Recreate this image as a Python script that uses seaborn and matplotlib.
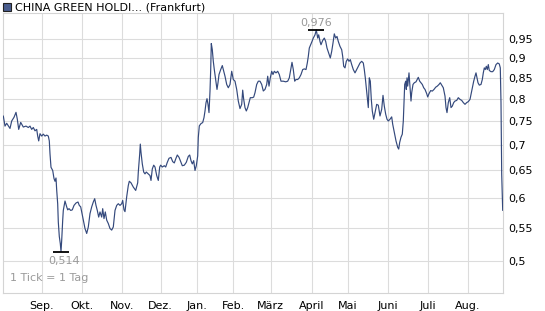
import matplotlib
matplotlib.use("Agg")
import matplotlib.pyplot as plt
import seaborn as sns
import pandas as pd
from matplotlib.ticker import FixedLocator, FixedFormatter, NullLocator

# ---- data (x = chart tick position, 1 Tick = 1 Tag) ----
tick = [0.3, 2.0, 3.7, 7.0, 8.7, 11.0, 13.0, 14.3, 15.7, 17.7, 19.0, 20.3, 23.0, 25.3, 27.0, 28.7, 30.3, 32.0,
        33.7, 34.7, 35.7, 37.0, 38.7, 40.3, 42.0, 43.7, 45.3, 46.3, 47.0, 48.0, 49.7, 51.0, 52.0, 53.0, 53.7,
        54.7, 55.3, 56.3, 57.3, 58.0, 58.7, 59.7, 60.3, 62.0, 63.7, 64.7, 66.0, 67.7, 69.3, 71.0, 73.0, 75.0,
        76.3, 77.7, 78.7, 80.3, 82.0, 83.7, 85.3, 87.0, 88.7, 90.3, 91.7, 93.0, 94.3, 95.7, 97.0, 98.7, 99.7,
        101.0, 102.3, 103.7, 105.3, 107.0, 108.7, 110.3, 112.0, 113.7, 115.3, 117.0, 118.7, 119.7, 121.0,
        122.0, 123.7, 125.3, 126.3, 128.0, 130.3, 132.7, 134.7, 135.3, 136.7, 137.3, 138.0, 139.3, 140.7,
        142.0, 143.3, 145.3, 147.0, 148.0, 149.3, 150.7, 152.0, 153.7, 155.3, 156.7, 157.7, 159.3, 161.3,
        162.7, 164.3, 166.0, 168.0, 169.7, 171.3, 172.7, 174.3, 176.0, 177.3, 179.3, 181.3, 183.3, 185.3,
        186.7, 188.0, 189.3, 190.7, 192.0, 193.3, 194.7, 195.3, 196.3, 198.0, 199.7, 201.0, 202.0, 203.0,
        204.0, 205.0, 206.0, 207.0, 207.7, 208.3, 209.3, 210.3, 211.3, 212.7, 214.0, 215.0, 216.0, 217.7,
        219.3, 220.7, 222.0, 223.7, 225.3, 227.0, 228.0, 228.7, 230.3, 232.0, 233.7, 235.3, 237.0, 238.7,
        239.7, 240.7, 242.0, 243.3, 244.7, 246.0, 247.3, 249.3, 250.7, 252.0, 253.7, 255.3, 257.0, 258.7,
        260.3, 262.0, 263.7, 264.7, 266.0, 267.3, 268.7, 270.0, 271.3, 273.0, 274.7, 276.3, 278.0, 280.3,
        282.7, 284.7, 286.3, 287.7, 289.0, 290.3, 291.7, 293.0, 294.7, 296.3, 298.0, 299.7, 301.3, 303.0,
        304.3, 305.3, 306.3, 307.7, 309.0, 310.3, 312.0, 313.3, 314.7, 315.7, 317.0, 318.0, 319.7, 321.3,
        322.7, 324.0, 325.7, 327.3, 328.7, 330.0, 331.3, 332.7, 334.0, 335.3, 337.0, 338.7, 339.7, 340.7,
        342.0, 343.3, 344.7, 346.0, 347.3, 348.7, 350.3, 352.0, 353.7, 355.3, 357.0, 358.7, 360.3, 361.3,
        362.3, 363.3, 364.3, 365.3, 366.3, 367.3, 368.3, 369.3, 370.7, 372.0, 373.7, 375.3, 377.0, 378.7,
        380.0, 381.3, 382.7, 384.0, 385.3, 387.0, 388.7, 389.7, 391.3, 393.0, 394.7, 395.7, 396.7, 398.0,
        399.3, 400.3, 401.0, 401.7, 402.7, 403.3, 404.0, 404.7, 405.3, 406.0, 407.0, 408.0, 408.7, 410.0,
        411.3, 413.0, 414.7, 415.3, 416.7, 418.0, 419.3, 420.7, 422.0, 423.7, 424.7, 426.0, 427.7, 429.3,
        431.0, 432.7, 434.3, 436.0, 437.3, 438.7, 440.3, 442.0, 443.0, 444.0, 445.3, 446.7, 448.0, 449.3,
        450.7, 452.0, 453.7, 455.3, 457.0, 458.7, 460.3, 462.0, 463.7, 465.3, 467.0, 468.0, 469.3, 470.7,
        472.0, 473.0, 474.0, 475.0, 476.3, 478.0, 479.3, 480.3, 481.3, 482.3, 483.3, 484.3, 485.3, 486.3,
        488.0, 489.7, 491.3, 493.0, 494.7, 496.3, 497.3, 498.0, 498.7, 499.7]

price = [0.761, 0.739, 0.745, 0.734, 0.750, 0.758, 0.769, 0.754, 0.732, 0.747, 0.742, 0.737, 0.739, 0.736,
         0.739, 0.732, 0.736, 0.729, 0.732, 0.718, 0.708, 0.723, 0.718, 0.722, 0.718, 0.720, 0.718, 0.708,
         0.682, 0.656, 0.650, 0.635, 0.630, 0.636, 0.614, 0.590, 0.560, 0.537, 0.526, 0.514, 0.531, 0.563,
         0.579, 0.595, 0.585, 0.580, 0.582, 0.579, 0.580, 0.5875, 0.5916, 0.5933, 0.5875, 0.585, 0.5765,
         0.563, 0.5495, 0.5417, 0.552, 0.5737, 0.585, 0.5933, 0.599, 0.5875, 0.579, 0.568, 0.5765, 0.568,
         0.582, 0.5655, 0.5765, 0.563, 0.5575, 0.5495, 0.547, 0.552, 0.579, 0.5875, 0.5904, 0.5875, 0.5904,
         0.596, 0.580, 0.577, 0.6025, 0.6224, 0.630, 0.6272, 0.6195, 0.6135, 0.6272, 0.647, 0.6817, 0.7015,
         0.685, 0.6624, 0.647, 0.6436, 0.647, 0.6436, 0.6405, 0.6315, 0.6529, 0.660, 0.6565, 0.6405, 0.6315,
         0.6565, 0.660, 0.6565, 0.659, 0.6565, 0.6655, 0.6733, 0.675, 0.6668, 0.6643, 0.6719, 0.6797, 0.6752,
         0.6687, 0.659, 0.660, 0.6655, 0.677, 0.6797, 0.6687, 0.6624, 0.6687, 0.650, 0.659, 0.678, 0.7152,
         0.7394, 0.7444, 0.7466, 0.7575, 0.772, 0.7904, 0.800, 0.787, 0.7684, 0.8177, 0.8703, 0.9384, 0.9217,
         0.8913, 0.8703, 0.8456, 0.8217, 0.8377, 0.8579, 0.8703, 0.8804, 0.866, 0.8537, 0.8336, 0.8257,
         0.8336, 0.8537, 0.866, 0.8456, 0.8415, 0.8217, 0.7945, 0.7774, 0.787, 0.820, 0.7984, 0.7796, 0.772,
         0.7796, 0.7910, 0.8023, 0.8023, 0.8037, 0.814, 0.8336, 0.8415, 0.8415, 0.8336, 0.818, 0.8217, 0.8336,
         0.8537, 0.8296, 0.8497, 0.866, 0.8579, 0.866, 0.862, 0.866, 0.8579, 0.8415, 0.8415, 0.840, 0.8415,
         0.8497, 0.8703, 0.8887, 0.8703, 0.8415, 0.8456, 0.8456, 0.8497, 0.8579, 0.8703, 0.872, 0.8703,
         0.887, 0.904, 0.9262, 0.9351, 0.944, 0.9533, 0.9623, 0.976, 0.9533, 0.9623, 0.944, 0.9351, 0.9467,
         0.9533, 0.944, 0.9262, 0.913, 0.900, 0.9173, 0.9397, 0.965, 0.9533, 0.9578, 0.944, 0.9307, 0.9217,
         0.904, 0.8786, 0.8745, 0.8913, 0.8975, 0.8913, 0.8957, 0.8829, 0.8703, 0.862, 0.8703, 0.8786, 0.887,
         0.8913, 0.887, 0.8703, 0.8497, 0.8257, 0.8023, 0.7796, 0.8497, 0.8415, 0.7984, 0.772, 0.7538,
         0.7684, 0.787, 0.785, 0.761, 0.7758, 0.8077, 0.783, 0.7648, 0.7538, 0.750, 0.7538, 0.759, 0.743,
         0.7255, 0.708, 0.695, 0.6915, 0.705, 0.7155, 0.722, 0.750, 0.7904, 0.8336, 0.8415, 0.8217, 0.8497,
         0.8296, 0.8456, 0.862, 0.8257, 0.7945, 0.814, 0.8336, 0.8377, 0.840, 0.848, 0.851, 0.8415, 0.8377,
         0.8336, 0.8257, 0.8217, 0.8117, 0.804, 0.8117, 0.819, 0.8177, 0.8217, 0.827, 0.8296, 0.8336, 0.8377,
         0.832, 0.8257, 0.806, 0.7796, 0.7684, 0.791, 0.8023, 0.7796, 0.783, 0.791, 0.7945, 0.796, 0.8023,
         0.7984, 0.796, 0.791, 0.787, 0.791, 0.7932, 0.7984, 0.810, 0.8257, 0.8415, 0.8537, 0.862, 0.8497,
         0.8377, 0.832, 0.8336, 0.8456, 0.862, 0.8745, 0.8703, 0.8786, 0.8703, 0.8829, 0.868, 0.865, 0.865,
         0.8703, 0.8829, 0.887, 0.8845, 0.8745, 0.791, 0.6436, 0.579]

month_pos = [39, 79, 119, 157.7, 194, 230, 267.7, 309, 345, 384.7, 424.7, 464.7]
month_labels = ["Sep.", "Okt.", "Nov.", "Dez.", "Jan.", "Feb.", "März", "April", "Mai", "Juni", "Juli", "Aug."]
y_ticks = [0.5, 0.55, 0.6, 0.65, 0.7, 0.75, 0.8, 0.85, 0.9, 0.95]
y_labels = ["0,5", "0,55", "0,6", "0,65", "0,7", "0,75", "0,8", "0,85", "0,9", "0,95"]
hi_tick, hi_val, hi_label = 313.3, 0.976, "0,976"
lo_tick, lo_val, lo_label = 58.0, 0.514, "0,514"
title = "CHINA GREEN HOLDI... (Frankfurt)"

sns.set_style("white")
plt.rcParams['font.family'] = ['DejaVu Sans']

W, H = 545, 311
fig = plt.figure(figsize=(W / 100, H / 100), dpi=100)
ax = fig.add_axes([3 / W, 1 - 293 / H, 500 / W, 280 / H])

df = pd.DataFrame({"tick": tick, "price": price})
LINE = "#34497c"
sns.lineplot(data=df, x="tick", y="price", ax=ax, estimator=None, sort=False,
             color=LINE, linewidth=0.85, zorder=3)

ax.set_yscale("log")
ax.set_xlim(0, 500)
ax.set_ylim(0.456, 1.025)

ax.yaxis.set_major_locator(FixedLocator(y_ticks))
ax.yaxis.set_major_formatter(FixedFormatter(y_labels))
ax.yaxis.set_minor_locator(NullLocator())
ax.xaxis.set_major_locator(FixedLocator(month_pos))
ax.xaxis.set_major_formatter(FixedFormatter(month_labels))
ax.xaxis.set_minor_locator(NullLocator())
ax.yaxis.tick_right()
ax.tick_params(axis="both", length=0, labelsize=8, colors="black")
ax.tick_params(axis="y", pad=4)
ax.tick_params(axis="x", pad=5.5)
ax.set_xlabel("")
ax.set_ylabel("")

ax.grid(True, color="#dcdcdc", linewidth=0.8)
ax.set_axisbelow(True)
for s in ax.spines.values():
    s.set_visible(True)
    s.set_color("#d4d4d4")
    s.set_linewidth(0.8)

# high / low markers
ax.plot([hi_tick], [hi_val], marker="_", markersize=11, mew=1.3, color="black", zorder=4)
ax.annotate(hi_label, (hi_tick, hi_val), xytext=(0, 1.5), textcoords="offset points",
            ha="center", va="bottom", fontsize=8, color="#9a9a9a")
ax.plot([lo_tick], [lo_val], marker="_", markersize=11, mew=1.3, color="black", zorder=4)
ax.annotate(lo_label, (lo_tick, lo_val), xytext=(2, -3), textcoords="offset points",
            ha="center", va="top", fontsize=8, color="#9a9a9a")

ax.text(7 / 500, 0.035, "1 Tick = 1 Tag", transform=ax.transAxes, fontsize=8,
        color="#9a9a9a", ha="left", va="bottom")

# title with square
fig.patches.append(plt.Rectangle((3 / W, 1 - 11 / H), 8 / W, 8 / H, transform=fig.transFigure,
                                 facecolor="#4a5d8e", edgecolor="#222222", linewidth=0.8))
fig.text(15 / W, 1 - 7.5 / H, title, fontsize=8, color="black", ha="left", va="center")

fig.savefig("out.png", dpi=100)
